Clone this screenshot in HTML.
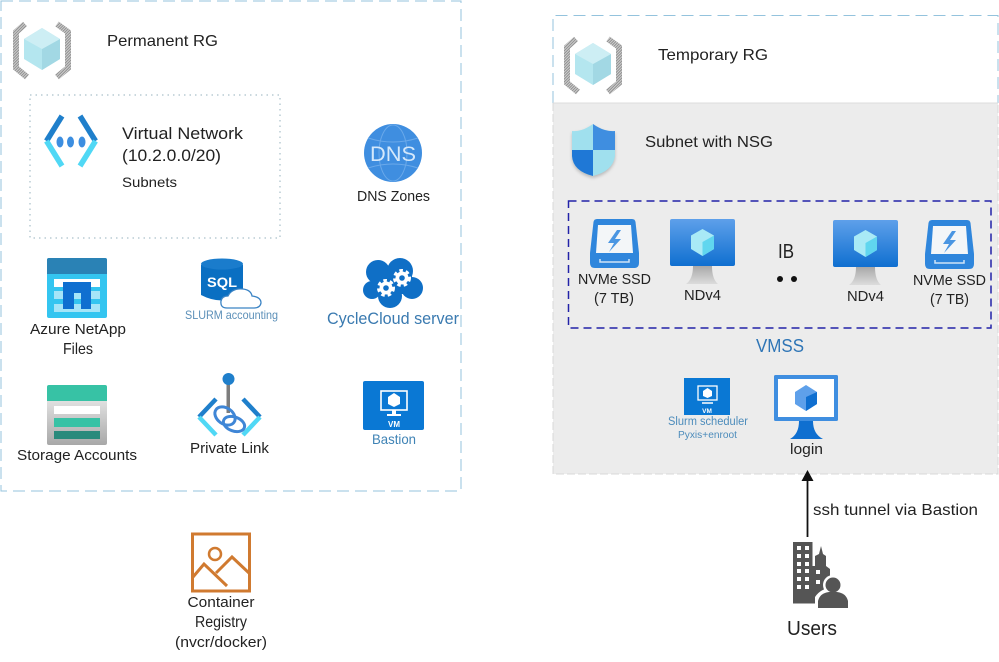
<!DOCTYPE html>
<html><head><meta charset="utf-8"><style>
html,body{margin:0;padding:0;background:#fff;width:999px;height:662px;overflow:hidden}
svg{display:block}
text{font-family:"Liberation Sans",sans-serif;fill:#222}
</style></head><body>
<svg width="999" height="662" viewBox="0 0 999 662" xmlns="http://www.w3.org/2000/svg">
<defs>
<linearGradient id="gs" x1="0" y1="0" x2="0" y2="1"><stop offset="0" stop-color="#f4f4f4"/><stop offset="1" stop-color="#a8a8a8"/></linearGradient>
<linearGradient id="vm" x1="0" y1="0" x2="0" y2="1"><stop offset="0" stop-color="#5ea0ea"/><stop offset="1" stop-color="#0f6fd0"/></linearGradient>
<linearGradient id="stand" x1="0" y1="0" x2="0" y2="1"><stop offset="0" stop-color="#a8a8a8"/><stop offset="1" stop-color="#dcdcdc"/></linearGradient>
<pattern id="hatch" width="2" height="2" patternUnits="userSpaceOnUse" patternTransform="rotate(45)"><rect width="2" height="2" fill="#d0d0d0"/><rect width="1" height="2" fill="#8f8f8f"/></pattern>
<filter id="sh" x="-20%" y="-20%" width="140%" height="140%"><feGaussianBlur stdDeviation="1.500"/></filter>
<symbol id="rg" overflow="visible">
<g fill="none" stroke="url(#hatch)" stroke-width="6">
<path d="M27 2 L18 10 L18 46 L29 55"/>
<path d="M59 2 L70 10 L70 46 L59 55"/>
</g>
<path d="M44 6 L62 17 L62 37 L44 48 L26 37 L26 17Z" fill="#b4e6ef"/>
<path d="M44 27 L62 17 L62 37 L44 48Z" fill="#a2d8e4"/>
<path d="M44 6 L62 17 L44 27 L26 17Z" fill="#cdeef4"/>
</symbol>
<symbol id="ndvm" overflow="visible">
<path d="M23 47 H42 Q42 60 48 65 H16 Q23 60 23 47Z" fill="url(#stand)"/>
<rect x="0" y="0" width="65" height="47" rx="2" fill="url(#vm)"/>
<path d="M32.500 10 L44 16.500 L44 30 L32.500 37 L21 30 L21 16.500Z" fill="#a9eaf6"/>
<path d="M32.500 23 L44 16.500 L44 30 L32.500 37Z" fill="#60d6ef"/>
</symbol>
<symbol id="ssd" overflow="visible">
<path d="M7 0 H42 Q45 0 45.500 3 L49 34 V44 Q49 49 44 49 H5 Q0 49 0 44 V34 L3.500 3 Q4 0 7 0Z" fill="#2f86dc"/>
<path d="M8 6 H41 L43 34 H6Z" fill="#f3f6f8"/>
<path d="M27 11 L18 24 H24 L19 33 L31 20 H25 L31 11Z" fill="#4a96e2"/>
<path d="M10 40 V43 H39 V40" fill="none" stroke="#cfe4f7" stroke-width="1.500"/>
</symbol>
<symbol id="azvm" overflow="visible">
<rect x="0" y="0" width="61" height="49" rx="2" fill="#0a78d4"/>
<g fill="none" stroke="#fff" stroke-width="1.600"><rect x="18" y="10" width="26" height="19"/></g>
<path d="M31 12 L37 16 L37 23 L31 26 L25 23 L25 16Z" fill="#fff"/>
<path d="M29 29 H33 V33 H38 V35 H24 V33 H29Z" fill="#fff"/>
<text x="31" y="46" font-size="8" font-weight="bold" text-anchor="middle" style="fill:#fff">VM</text>
</symbol>
</defs>

<!-- Permanent RG -->
<rect x="1" y="1" width="460" height="490" fill="#fff" stroke="#94c3dd" stroke-width="1" stroke-dasharray="12 6"/>
<rect x="30" y="95" width="250" height="143" fill="none" stroke="#b9ccd4" stroke-width="1.500" stroke-dasharray="1.500 4"/>
<use href="#rg" x="-2" y="22"/>
<text x="107" y="46" font-size="16" textLength="111" lengthAdjust="spacingAndGlyphs">Permanent RG</text>

<!-- VNet -->
<g fill="none" stroke-width="5.500">
<path d="M62 116 L46.500 141" stroke="#1f7fcb"/>
<path d="M46.500 141 L62 166" stroke="#50d8f5"/>
<path d="M80 116 L95.500 141" stroke="#1f7fcb"/>
<path d="M95.500 141 L80 166" stroke="#50d8f5"/>
</g>
<ellipse cx="60" cy="142" rx="3.500" ry="5.500" fill="#3c8ee0"/><ellipse cx="70.500" cy="142" rx="3.500" ry="5.500" fill="#3c8ee0"/><ellipse cx="82" cy="142" rx="3.500" ry="5.500" fill="#3c8ee0"/>
<text x="122" y="139" font-size="17" textLength="121" lengthAdjust="spacingAndGlyphs">Virtual Network</text>
<text x="122" y="161" font-size="17" textLength="99" lengthAdjust="spacingAndGlyphs">(10.2.0.0/20)</text>
<text x="122" y="187" font-size="14" textLength="55" lengthAdjust="spacingAndGlyphs">Subnets</text>

<!-- DNS -->
<circle cx="393" cy="153" r="29" fill="#3f8ee0"/>
<g fill="none" stroke="#6aa9ea" stroke-width="1"><ellipse cx="393" cy="153" rx="14" ry="28"/><path d="M368 138 Q393 146 418 138M368 168 Q393 160 418 168"/></g>
<text x="393" y="161" font-size="21" text-anchor="middle" textLength="46" lengthAdjust="spacingAndGlyphs" style="fill:#d4e8fb">DNS</text>
<text x="357" y="201" font-size="15" textLength="73" lengthAdjust="spacingAndGlyphs">DNS Zones</text>

<!-- NetApp -->
<rect x="47" y="258" width="60" height="60" rx="2" fill="#34c5f0"/>
<path d="M47 274 V260 Q47 258 49 258 H105 Q107 258 107 260 V274Z" fill="#2a82b5"/>
<rect x="54" y="279" width="46" height="8" fill="#fff"/><rect x="54" y="291" width="46" height="8" fill="#a5e5f8"/><rect x="54" y="304" width="46" height="8" fill="#a5e5f8"/>
<path d="M63 282 H91 V309 H81 V293 H74 V309 H63Z" fill="#0f6fd0"/>
<text x="78" y="334" font-size="15" text-anchor="middle" textLength="96" lengthAdjust="spacingAndGlyphs">Azure NetApp</text>
<text x="78" y="354" font-size="16" text-anchor="middle" textLength="30" lengthAdjust="spacingAndGlyphs">Files</text>

<!-- SQL -->
<path d="M201 265 Q222 253 243 265 V295 Q222 306 201 295Z" fill="#0a6fc2"/>
<ellipse cx="222" cy="264" rx="21" ry="5.500" fill="#1a7ccc"/>
<text x="222" y="287" font-size="14" font-weight="bold" text-anchor="middle" textLength="30" lengthAdjust="spacingAndGlyphs" style="fill:#fff">SQL</text>
<path d="M227 308 Q220 308 221 301 Q222 296 228 296 Q232 288 243 289 Q251 290 252 296 Q261 297 261 303 Q260 308 254 308Z" fill="#fff" stroke="#3a83c4" stroke-width="1.300"/>
<text x="185" y="319" font-size="12" textLength="93" lengthAdjust="spacingAndGlyphs" style="fill:#5b8fb8">SLURM accounting</text>

<!-- CycleCloud -->
<g fill="#0f6fc6"><circle cx="378" cy="272" r="12"/><circle cx="400" cy="271" r="13"/><circle cx="372" cy="290" r="9"/><circle cx="412" cy="288" r="11"/><circle cx="390" cy="296" r="12"/><rect x="372" y="272" width="40" height="22"/></g>
<g fill="#fff"><circle cx="386" cy="288" r="6.500"/><circle cx="402" cy="278" r="6.500"/></g>
<g fill="none" stroke="#fff" stroke-width="3" stroke-dasharray="3.500 3"><circle cx="386" cy="288" r="7.500"/><circle cx="402" cy="278" r="7.500"/></g>
<g fill="#0f6fc6"><circle cx="386" cy="288" r="2.800"/><circle cx="402" cy="278" r="2.800"/></g>
<text x="327" y="324" font-size="17" textLength="132" lengthAdjust="spacingAndGlyphs" style="fill:#3a7ab0">CycleCloud server</text>

<!-- Storage -->
<rect x="47" y="385" width="60" height="60" rx="2" fill="url(#gs)"/>
<path d="M47 401 V387 Q47 385 49 385 H105 Q107 385 107 387 V401Z" fill="#37c2a5"/>
<rect x="54" y="406" width="46" height="8" fill="#fff"/><rect x="54" y="418" width="46" height="9" fill="#37c2a5"/><rect x="54" y="431" width="46" height="8" fill="#2a8a7c"/>
<text x="17" y="460" font-size="15" textLength="120" lengthAdjust="spacingAndGlyphs">Storage Accounts</text>

<!-- Private Link -->
<rect x="226.500" y="383" width="3.500" height="30" fill="#7d7d7d"/>
<circle cx="228.500" cy="379" r="6" fill="#1f7fcb"/>
<g fill="none" stroke-width="4.500">
<path d="M216 399 L199 417" stroke="#1f7fcb"/>
<path d="M199 417 L216 435" stroke="#50d8f5"/>
<path d="M243 399 L260 417" stroke="#1f7fcb"/>
<path d="M260 417 L243 435" stroke="#50d8f5"/>
</g>
<g fill="none" stroke="#3f86d6" stroke-width="3"><ellipse cx="225" cy="416" rx="11" ry="8" transform="rotate(35 225 416)"/><ellipse cx="234" cy="424" rx="11" ry="7" transform="rotate(20 234 424)"/></g>
<text x="190" y="453" font-size="15" textLength="79" lengthAdjust="spacingAndGlyphs">Private Link</text>

<!-- Bastion -->
<use href="#azvm" x="363" y="381"/>
<text x="372" y="444" font-size="14" textLength="44" lengthAdjust="spacingAndGlyphs" style="fill:#3f83b5">Bastion</text>

<!-- Container Registry -->
<rect x="192.500" y="534" width="57" height="57" fill="none" stroke="#d07a30" stroke-width="3"/>
<circle cx="215" cy="554" r="6" fill="none" stroke="#d07a30" stroke-width="2.500"/>
<path d="M193 577 L204 564 L227 586M216 573 L232 557 L249 573" fill="none" stroke="#d07a30" stroke-width="3"/>
<text x="221" y="607" font-size="15" text-anchor="middle" textLength="67" lengthAdjust="spacingAndGlyphs">Container</text>
<text x="221" y="627" font-size="15.500" text-anchor="middle" textLength="52" lengthAdjust="spacingAndGlyphs">Registry</text>
<text x="221" y="647" font-size="15" text-anchor="middle" textLength="92" lengthAdjust="spacingAndGlyphs">(nvcr/docker)</text>

<!-- Temporary RG -->
<rect x="553" y="103" width="445" height="371" fill="#ececec"/>
<path d="M553 103 V15.500 H998 V103" fill="none" stroke="#94c3dd" stroke-width="1" stroke-dasharray="12 6"/>
<path d="M553 103 H998" stroke="#dcdcdc" stroke-width="1"/>
<path d="M553 103 V474 H998 V103" fill="none" stroke="#d8d8d8" stroke-width="1" stroke-dasharray="8 3"/>
<use href="#rg" x="549" y="37"/>
<text x="658" y="60" font-size="16" textLength="110" lengthAdjust="spacingAndGlyphs">Temporary RG</text>

<!-- Shield -->
<path d="M593 126 Q582 134 572 133 V158 Q573 173 593 178 Q613 173 615 158 V133 Q604 134 593 126Z" fill="#909090" opacity=".55" filter="url(#sh)"/>
<path d="M593 124 Q582 132 572 131 V156 Q573 171 593 176 Q613 171 615 156 V131 Q604 132 593 124Z" fill="#a0e0ee"/>
<path d="M593 124 Q604 132 615 131 V150 H593Z" fill="#3f8ee0"/>
<path d="M572 150 H593 V176 Q573 171 572 156Z" fill="#1f78d6"/>
<text x="645" y="147" font-size="16" textLength="128" lengthAdjust="spacingAndGlyphs">Subnet with NSG</text>

<!-- VMSS box -->
<rect x="568.500" y="201" width="422.500" height="127" fill="none" stroke="#2222a8" stroke-width="1.500" stroke-dasharray="8 5"/>
<use href="#ssd" x="590" y="219"/>
<use href="#ndvm" x="670" y="219"/>
<use href="#ndvm" x="833" y="220"/>
<use href="#ssd" x="925" y="220"/>
<text x="578" y="284" font-size="15" textLength="73" lengthAdjust="spacingAndGlyphs">NVMe SSD</text>
<text x="594" y="303" font-size="15" textLength="40" lengthAdjust="spacingAndGlyphs">(7 TB)</text>
<text x="684" y="300" font-size="15" textLength="37" lengthAdjust="spacingAndGlyphs">NDv4</text>
<text x="847" y="301" font-size="15" textLength="37" lengthAdjust="spacingAndGlyphs">NDv4</text>
<text x="913" y="285" font-size="15" textLength="73" lengthAdjust="spacingAndGlyphs">NVMe SSD</text>
<text x="930" y="304" font-size="15" textLength="39" lengthAdjust="spacingAndGlyphs">(7 TB)</text>
<text x="778" y="258" font-size="20" textLength="16" lengthAdjust="spacingAndGlyphs">IB</text>
<circle cx="780" cy="279" r="3" fill="#111"/><circle cx="794" cy="279" r="3" fill="#111"/>
<text x="756" y="352" font-size="18" textLength="48" lengthAdjust="spacingAndGlyphs" style="fill:#2e75b6">VMSS</text>

<!-- Slurm VM -->
<rect x="684" y="378" width="46" height="37" fill="#0a78d4"/>
<rect x="698" y="386" width="19" height="14" fill="none" stroke="#fff" stroke-width="1.300"/>
<path d="M707.500 388 L712 391 L712 396 L707.500 398 L703 396 L703 391Z" fill="#fff"/>
<path d="M702 403 H713" stroke="#fff" stroke-width="1.500"/>
<text x="707" y="413" font-size="6.500" font-weight="bold" text-anchor="middle" style="fill:#fff">VM</text>
<text x="668" y="425" font-size="11.500" textLength="80" lengthAdjust="spacingAndGlyphs" style="fill:#4d8cbb">Slurm scheduler</text>
<text x="678" y="438" font-size="10" textLength="59" lengthAdjust="spacingAndGlyphs" style="fill:#4d8cbb">Pyxis+enroot</text>

<!-- Login -->
<path d="M799 421 H813 Q813 434 823 439 H790 Q799 434 799 421Z" fill="#0f6fd0"/>
<rect x="774" y="375" width="64" height="46" rx="1.500" fill="#3f8ee0"/>
<rect x="778" y="379" width="56" height="38" fill="#fff"/>
<path d="M806 385 L817 392 L817 404 L806 411 L795 404 L795 392Z" fill="#5ea0ea"/>
<path d="M806 397 L817 392 L817 404 L806 411Z" fill="#0f6fd0"/>
<text x="790" y="454" font-size="15" textLength="33" lengthAdjust="spacingAndGlyphs">login</text>

<!-- Arrow -->
<path d="M807.500 537 V479" stroke="#111" stroke-width="1.800"/>
<path d="M807.500 470 L813.500 481 H801.500Z" fill="#111"/>
<text x="813" y="515" font-size="16" textLength="165" lengthAdjust="spacingAndGlyphs">ssh tunnel via Bastion</text>

<!-- Users -->
<path d="M793 542 H812.500 V603.500 H793Z" fill="#555"/>
<path d="M812.500 566 H815 V556 L819 554 L821 546 L823 554 L826 556 V566 L830 569 V603.500 H812.500Z" fill="#555"/>
<g fill="#fff"><rect x="797" y="546" width="4" height="4"/><rect x="805" y="546" width="4" height="4"/><rect x="797" y="554" width="4" height="4"/><rect x="805" y="554" width="4" height="4"/><rect x="797" y="562" width="4" height="4"/><rect x="805" y="562" width="4" height="4"/><rect x="797" y="569" width="4" height="4"/><rect x="805" y="569" width="4" height="4"/><rect x="797" y="577" width="4" height="4"/><rect x="805" y="577" width="4" height="4"/><rect x="797" y="585" width="4" height="4"/><rect x="805" y="585" width="4" height="4"/><rect x="816" y="570" width="4" height="4"/><rect x="816" y="580" width="4" height="4"/></g>
<path d="M815 610 V597 Q821 588 832 588 Q845 588 848 597 V610Z" fill="#fff"/>
<circle cx="833" cy="585" r="10" fill="#fff"/>
<circle cx="833" cy="585" r="7.500" fill="#555"/>
<path d="M818 608 V601 Q820 593 829 592 H837 Q846 593 848 601 V608Z" fill="#555"/>
<text x="787" y="635" font-size="20" textLength="50" lengthAdjust="spacingAndGlyphs">Users</text>
</svg>
</body></html>
